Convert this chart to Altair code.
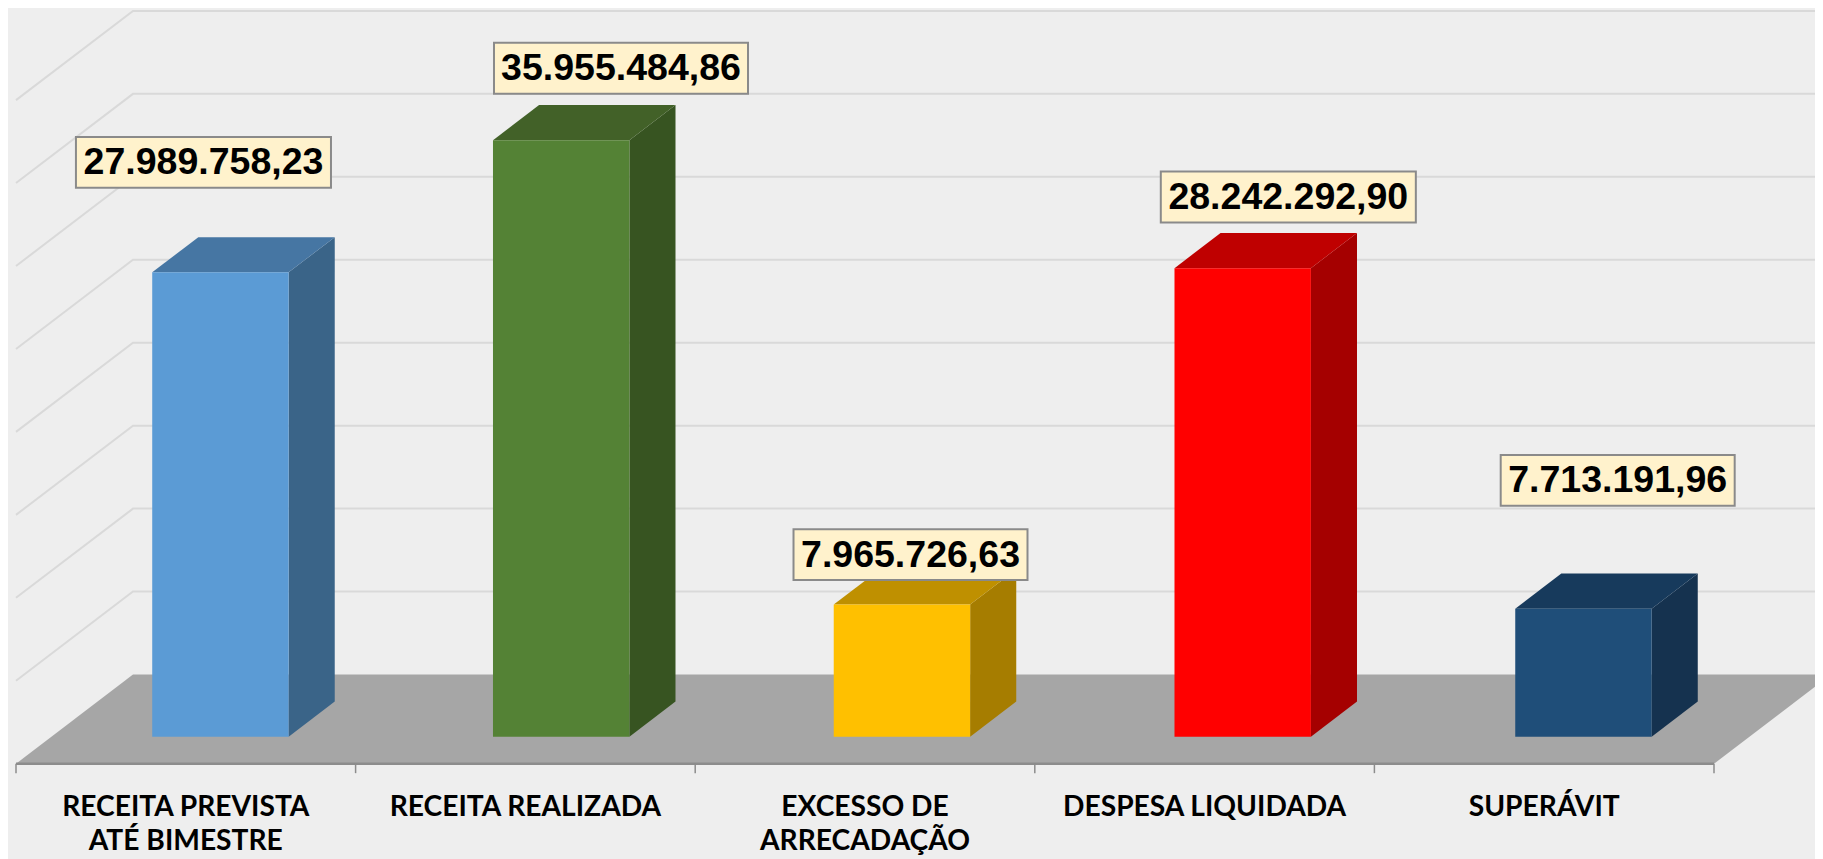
import altair as alt
import pandas as pd

# ---- chart values ----
CATEGORIES = ["RECEITA PREVISTA\nATÉ BIMESTRE", "RECEITA REALIZADA", "EXCESSO DE\nARRECADAÇÃO",
              "DESPESA LIQUIDADA", "SUPERÁVIT"]
VALUES = [27989758.23, 35955484.86, 7965726.63, 28242292.90, 7713191.96]
GRID_VALUES = [5e6, 10e6, 15e6, 20e6, 25e6, 30e6, 35e6, 40e6]
CATEGORY_EDGES = [0, 1, 2, 3, 4, 5]

# ---- colours ----
FRONT = ["#5B9BD5", "#548235", "#FFC000", "#FF0000", "#1F4E79"]
SIDE = ["#3A6488", "#375421", "#A67D00", "#A50000", "#15324F"]
TOP = ["#4676A3", "#426128", "#BF9000", "#BF0000", "#173A5C"]
BG, FLOOR, GRID, AXIS = "#EEEEEE", "#A6A6A6", "#D9D9D9", "#8C8C8C"
BOX_FILL, BOX_EDGE = "#FFF2CC", "#8A8A8A"

# ---- label placement, in axis units ----
BOX_X = [0.552, 1.7815, 2.634, 3.7465, 4.7164]
BOX_V = [36.25e6, 41.92e6, 12.60e6, 34.16e6, 17.08e6]
BOX_W = [0.751, 0.748, 0.689, 0.751, 0.689]
BOX_H = 3.06e6
CAT_BASELINE = -3.134e6

# ---- oblique projection of the 3D box ----
DEPTH_X, DEPTH_V = 0.3445, 5.377e6
BAR_FIRST, BAR_STEP, BAR_W = 0.4976, 1.0034, 0.4017
D_FRONT, D_BACK = 0.303, 0.697

W, H = 1807, 851
xs = alt.Scale(domain=[-0.02356, 5.2974], range=[0, W], nice=False, zero=False)
ys = alt.Scale(domain=[-5.744e6, 45.552e6], range=[H, 0], nice=False, zero=False)


def X(f="x"):
    return alt.X(f"{f}:Q", scale=xs, axis=None, title=None)


def Y(f="y"):
    return alt.Y(f"{f}:Q", scale=ys, axis=None, title=None, stack=None)


C = alt.Color("c:N", scale=None, legend=None)


def P(x, v, d):
    return x + DEPTH_X * d, v + DEPTH_V * d


# floor
floor = pd.DataFrame([
    dict(x=0, x2=5, y=0, c=FLOOR),
    dict(x=DEPTH_X, x2=5 + DEPTH_X, y=DEPTH_V, c=FLOOR),
])
floor_layer = alt.Chart(floor).mark_area(orient="horizontal").encode(
    y=Y(), x=X(), x2="x2:Q", color=C)

# wall gridlines
rows = []
for g in GRID_VALUES:
    rows += [dict(x=0, y=g, g=g), dict(x=DEPTH_X, y=g + DEPTH_V, g=g),
             dict(x=5 + DEPTH_X, y=g + DEPTH_V, g=g)]
grid_layer = alt.Chart(pd.DataFrame(rows)).mark_line(color=GRID, strokeWidth=2).encode(
    x=X(), y=Y(), detail="g:N")

# axis
axis_line = alt.Chart(pd.DataFrame({"x": [0], "x2": [5], "y": [0]})).mark_rule(
    color=AXIS, strokeWidth=2.5).encode(x=X(), x2="x2:Q", y=Y())
ticks = alt.Chart(pd.DataFrame({"x": CATEGORY_EDGES, "y": [0] * 6, "y2": [-0.57e6] * 6})).mark_rule(
    color=AXIS, strokeWidth=1.5).encode(x=X(), y=Y(), y2="y2:Q")

# bars
front, side, top = [], [], []
for i, v in enumerate(VALUES):
    left = BAR_FIRST + BAR_STEP * i - BAR_W / 2
    right = left + BAR_W
    x0, v0 = P(left, 0, D_FRONT)
    x1, v1 = P(right, 0, D_FRONT)
    front.append(dict(x=x0, x2=x1, y=v0, y2=v0 + v, c=FRONT[i]))
    xb, vb = P(right, 0, D_BACK)
    side += [dict(x=x1, y=v1, y2=v1 + v, c=SIDE[i]), dict(x=xb, y=vb, y2=vb + v, c=SIDE[i])]
    xl, _ = P(left, 0, D_BACK)
    top += [dict(x=x0, x2=x1, y=v0 + v, c=TOP[i]), dict(x=xl, x2=xb, y=vb + v, c=TOP[i])]

side_layer = alt.Chart(pd.DataFrame(side)).mark_area().encode(x=X(), y=Y(), y2="y2:Q", color=C)
top_layer = alt.Chart(pd.DataFrame(top)).mark_area(orient="horizontal").encode(
    y=Y(), x=X(), x2="x2:Q", color=C)
front_layer = alt.Chart(pd.DataFrame(front)).mark_rect().encode(
    x=X(), x2="x2:Q", y=Y(), y2="y2:Q", color=C)


# value labels
def br(v):
    return f"{v:,.2f}".replace(",", "#").replace(".", ",").replace("#", ".")


boxes = pd.DataFrame({
    "x": BOX_X, "y": BOX_V, "t": [br(v) for v in VALUES],
    "l": [a - w / 2 for a, w in zip(BOX_X, BOX_W)],
    "r": [a + w / 2 for a, w in zip(BOX_X, BOX_W)],
    "b": [a - BOX_H / 2 for a in BOX_V],
    "u": [a + BOX_H / 2 for a in BOX_V],
})
box_layer = alt.Chart(boxes).mark_rect(fill=BOX_FILL, stroke=BOX_EDGE, strokeWidth=2).encode(
    x=X("l"), x2="r:Q", y=Y("b"), y2="u:Q")
text_layer = alt.Chart(boxes).mark_text(
    font="Liberation Sans", fontWeight="bold", fontSize=37.5, color="black",
    align="center", baseline="middle", dy=1).encode(x=X(), y=Y(), text="t:N")

# category labels
cats = pd.DataFrame({"x": [i + 0.5 for i in range(5)], "y": [CAT_BASELINE] * 5, "t": CATEGORIES})
cat_layer = alt.Chart(cats).mark_text(
    font="Lato", fontWeight="bold", fontSize=28.2, color="black", align="center",
    baseline="alphabetic", lineBreak="\n", lineHeight=34).encode(x=X(), y=Y(), text="t:N")

chart = alt.layer(
    grid_layer, floor_layer, axis_line, ticks,
    side_layer, top_layer, front_layer, box_layer, text_layer, cat_layer
).properties(
    width=W, height=H, background=BG, padding=0,
    autosize=alt.AutoSizeParams(type="none"),
).configure_view(stroke=None)

chart.save("out.html", embed_options={"renderer": "svg", "actions": False})
